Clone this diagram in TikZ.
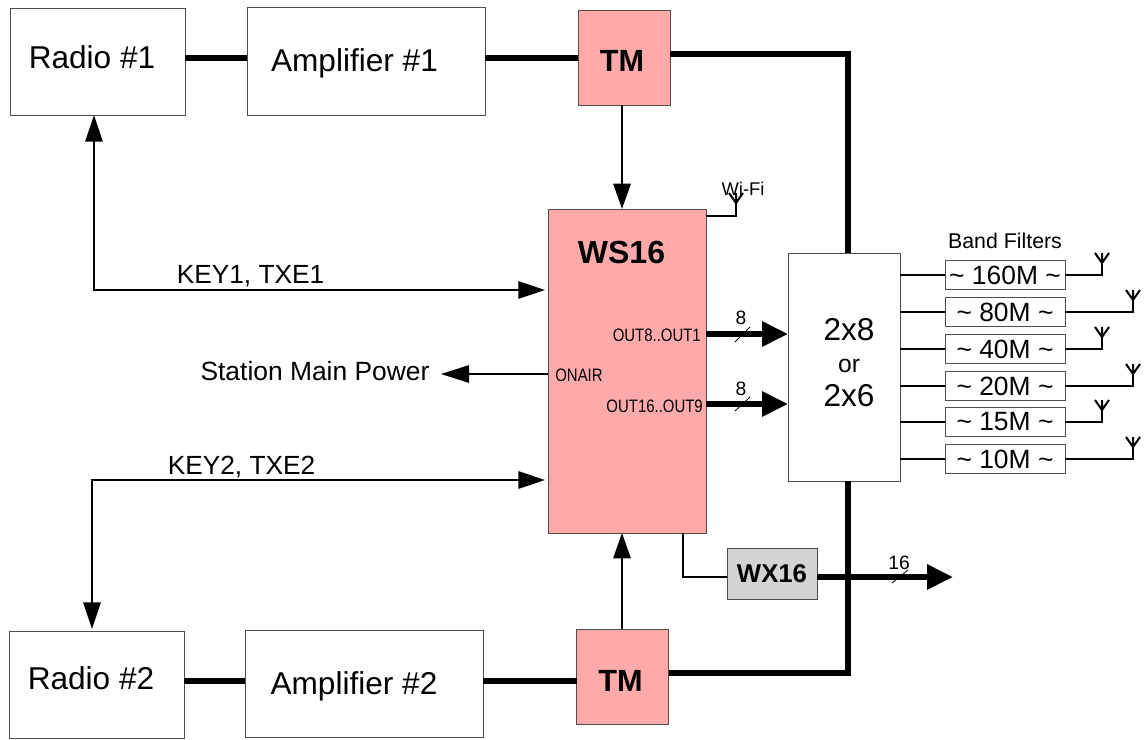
\documentclass[tikz,border=0pt]{standalone}
\usepackage{fontspec}
\setmainfont{Liberation Sans}
\usetikzlibrary{arrows.meta, positioning}
\definecolor{mPink}{HTML}{FFAAAA}
\definecolor{mGray}{HTML}{D3D3D3}
\definecolor{mEdge}{HTML}{4D4D4D}
\newcommand{\pxfont}[1]{\fontsize{#1}{#1}\selectfont}
\tikzset{
  ant/.pic={\draw[line width=1.5pt, line join=miter] (-7,0) -- (0,10) -- (7,0) (0,0) -- (0,10);}
}

\begin{document}
\begin{tikzpicture}[x=0.75pt, y=-0.75pt,
      box/.style={draw=mEdge, fill=white, line width=0.75pt, inner sep=0pt, outer sep=0pt},
      pinkbox/.style={box, fill=mPink},
      tmbox/.style={pinkbox, minimum width=69pt, minimum height=71.25pt},
      filterbox/.style={box, minimum width=90pt, minimum height=22pt, font=\pxfont{19.8}},
      big/.style={font=\pxfont{23.7}, inner sep=0pt},
      mid/.style={font=\pxfont{19.7}, inner sep=0pt},
      tiny/.style={font=\pxfont{13.5}, inner sep=0pt, xscale=0.83},
      heavy/.style={font=\bfseries\pxfont{23}, inner sep=0pt},
      bus/.style={line width=4.5pt},
      busarrow/.style={bus, -{Triangle[length=19.5pt, width=18pt]}},
      wire/.style={line width=1.5pt},
      wirearrow/.style={wire, -{Triangle[length=19pt, width=13pt]}},
      slash/.style={line width=0.6pt}]
    \useasboundingbox (0,0) rectangle (1148,739);
    % trunk lines behind the boxes
    \coordinate (topbend) at (848,54);
    \coordinate (botbend) at (848,673);
    \coordinate (txout) at (953,577);
    \coordinate (wsin) at (622,209);
    \node[box, minimum width=131.25pt, minimum height=80.25pt] (radioa) at (97.5,61.5) {};
    \node[box, minimum width=178.5pt, minimum height=81pt]     (ampa) at (366,61)  {};
    \node[tmbox]                                               (tma) at (624,57.5) {};
    \node[box, minimum width=131.25pt, minimum height=80.25pt] (radiob) at (96.5,684.5) {};
    \node[box, minimum width=178.5pt, minimum height=80.25pt]  (ampb) at (364,683.5) {};
    \node[tmbox]                                               (tmb) at (622.5,676.5) {};
    \node[pinkbox, minimum width=118.5pt, minimum height=243pt] (ws) at (627,371) {};
    \node[box, minimum width=84pt, minimum height=171pt]       (sw) at (844,367) {};
    \node[box, fill=mGray, minimum width=67.5pt, minimum height=38.25pt,
          font=\bfseries\pxfont{19.3}]                         (wx) at (772,573.5) {WX16};

    \draw[bus] (radioa.east |- 0,58) -- (ampa.west |- 0,58);
    \draw[bus] (ampa.east |- 0,58) -- (tma.west |- 0,58);
    \draw[bus] (radiob.east |- 0,681) -- (ampb.west |- 0,681);
    \draw[bus] (ampb.east |- 0,681) -- (tmb.west |- 0,681);
    \draw[bus, line join=miter] (tma.east |- topbend) -- (topbend) -- (topbend |- sw.north);
    \draw[bus, line join=miter] (tmb.east |- botbend) -- (botbend) -- (botbend |- sw.south);
    \draw[busarrow] (wx.east |- txout) -- (txout);

    % control wires
    \draw[wirearrow] (622,105) -- (wsin);
    \draw[wirearrow] (622,629) -- (622,533);
    \draw[wire, {Triangle[length=20pt, width=13pt]}-{Triangle[length=20pt, width=13pt]}]
        (94,115) |- (545,290);
    \draw[wire, {Triangle[length=20pt, width=13pt]}-{Triangle[length=20pt, width=13pt]}]
        (92,629) |- (545,480);
    \node[big] (power) at (315,371.5) {\pxfont{19.8}Station Main Power};
    \draw[wirearrow, -{Triangle[length=21pt, width=13pt]}] (ws.west |- 0,374) -- (441,374);
    \draw[wire] (ws.south -| 683,0) |- (wx.west |- txout);

    % main unit labels and outputs
    \node[font=\bfseries\pxfont{24}, inner sep=0pt] (wsname) at (621.5,252) {WS16};
    \node[tiny, anchor=east] (outa) at (701,335) {OUT8..OUT1};
    \node[tiny, anchor=east] (outb) at (703,406) {OUT16..OUT9};
    \node[tiny] (onair) at (579,375) {ONAIR};
    \draw[busarrow] (ws.east |- 0,334) -- (sw.west |- 0,334);
    \draw[busarrow] (ws.east |- 0,404) -- (sw.west |- 0,404);
    \draw[slash] (735,342) -- (750,327);
    \draw[slash] (735,411) -- (750,397);
    \draw[slash] (892,583) -- (908,570);
    \node[font=\pxfont{14.5}, inner sep=0pt] (busa) at (741,318) {8};
    \node[font=\pxfont{14.5}, inner sep=0pt] (busb) at (741,389) {8};
    \node[font=\pxfont{14.5}, inner sep=0pt] (busc) at (899,563) {16};

    % wireless antenna
    \coordinate (wifitip) at (736,193);
    \draw[wire] (ws.east |- 0,216) -| (wifitip);
    \pic at (wifitip) {ant};
    \node[font=\pxfont{13.8}, inner sep=0pt] (wifi) at (743,189) {Wi-Fi};

    % labels
    \node[heavy] (tmat) at (622,61) {TM};
    \node[heavy] (tmbt) at (620.5,681) {TM};
    \node[big] (radioat) at (92,57) {Radio \#1};
    \node[big] (ampat) at (354.5,63) {Amplifier \#1};
    \node[big] (radiobt) at (91,678.5) {Radio \#2};
    \node[big] (ampbt) at (354,686) {Amplifier \#2};
    \node[mid] (keya) at (250.5,276.5) {KEY1, TXE1};
    \node[mid] (keyb) at (241.5,467.5) {KEY2, TXE2};
    \node[big, align=center] (swname) at (849,363)
        {2x8\\[0pt]{\pxfont{18.5}or}\\[2pt]2x6};

    % band filters
    \node[font=\pxfont{16}, inner sep=0pt] (bands) at (1005,241) {Band Filters};
    \node[filterbox] (fa) at (1005,275) {\textasciitilde{} 160M \textasciitilde{}};
    \node[filterbox] (fb) at (1005,312) {\textasciitilde{} 80M \textasciitilde{}};
    \node[filterbox] (fc) at (1005,349) {\textasciitilde{} 40M \textasciitilde{}};
    \node[filterbox] (fd) at (1005,386) {\textasciitilde{} 20M \textasciitilde{}};
    \node[filterbox] (fe) at (1005,422) {\textasciitilde{} 15M \textasciitilde{}};
    \node[filterbox] (ff) at (1005,459) {\textasciitilde{} 10M \textasciitilde{}};
    \coordinate (anta) at (1102,253);
    \coordinate (antb) at (1133,290);
    \coordinate (antc) at (1102,327);
    \coordinate (antd) at (1133,364);
    \coordinate (ante) at (1102,400);
    \coordinate (antf) at (1133,437);
    \draw[wire] (sw.east |- fa) -- (fa);
    \draw[wire] (sw.east |- fb) -- (fb);
    \draw[wire] (sw.east |- fc) -- (fc);
    \draw[wire] (sw.east |- fd) -- (fd);
    \draw[wire] (sw.east |- fe) -- (fe);
    \draw[wire] (sw.east |- ff) -- (ff);
    \draw[wire] (fa) -| (anta);
    \draw[wire] (fb) -| (antb);
    \draw[wire] (fc) -| (antc);
    \draw[wire] (fd) -| (antd);
    \draw[wire] (fe) -| (ante);
    \draw[wire] (ff) -| (antf);
    \pic at (anta) {ant};
    \pic at (antb) {ant};
    \pic at (antc) {ant};
    \pic at (antd) {ant};
    \pic at (ante) {ant};
    \pic at (antf) {ant};
  \end{tikzpicture}
\end{document}
